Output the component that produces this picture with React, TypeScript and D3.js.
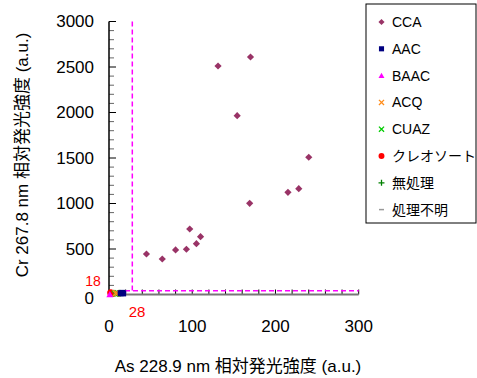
import { useEffect, useRef } from 'react';
import * as d3 from 'd3';

// 系列データ (As, Cr)
const cca: [number, number][] = [
    [45, 445], [64, 390], [80, 490], [93, 497], [97, 720], [105, 558], [110, 635],
    [169, 1002], [215, 1123], [228, 1163], [240, 1508], [131, 2511], [170, 2610], [154, 1965]
];
const aac: [number, number][] = [[14, 14], [16, 18], [17, 12]];
const baac: [number, number][] = [[1, 0]];
const acq: [number, number][] = [[8, 14], [10, 12]];
const cuaz: [number, number][] = [[7, 10], [9, 16], [11, 13]];
const creosote: [number, number][] = [[2, 18], [3, 10]];
const untreated: [number, number][] = [[6, 12], [12, 10]];
const unknown: [number, number][] = [[13, 8], [15, 6]];

const xTicks = [0, 100, 200, 300];
const yTicks = [0, 500, 1000, 1500, 2000, 2500, 3000];
const limitX = 28;
const limitY = 18;

const series = [
    { name: 'CCA', data: cca, shape: 'diamond', color: '#993366' },
    { name: 'AAC', data: aac, shape: 'square', color: '#000080' },
    { name: 'BAAC', data: baac, shape: 'triangle', color: '#ff00ff' },
    { name: 'ACQ', data: acq, shape: 'x', color: '#ff8c1a' },
    { name: 'CUAZ', data: cuaz, shape: 'x', color: '#00cc00' },
    { name: 'クレオソート', data: creosote, shape: 'circle', color: '#ff0000' },
    { name: '無処理', data: untreated, shape: 'plus', color: '#008000' },
    { name: '処理不明', data: unknown, shape: 'dash', color: '#999999' },
];

const FONT = '"Liberation Sans", Arial, "Noto Sans CJK JP", sans-serif';

function drawMarker(g: d3.Selection<SVGGElement, unknown, null, undefined>, shape: string, color: string, x: number, y: number, s = 1) {
    if (shape === 'diamond') {
        const r = 3.6 * s;
        g.append('path').attr('d', `M${x},${y - r}L${x + r},${y}L${x},${y + r}L${x - r},${y}Z`).attr('fill', color);
    } else if (shape === 'square') {
        g.append('rect').attr('x', x - 3 * s).attr('y', y - 3 * s).attr('width', 6 * s).attr('height', 6 * s).attr('fill', color);
    } else if (shape === 'triangle') {
        const r = 3.5 * s;
        g.append('path').attr('d', `M${x},${y - r}L${x + r},${y + r * 0.8}L${x - r},${y + r * 0.8}Z`).attr('fill', color);
    } else if (shape === 'circle') {
        g.append('circle').attr('cx', x).attr('cy', y).attr('r', 3.5 * s).attr('fill', color);
    } else if (shape === 'x') {
        const r = 3 * s;
        g.append('path').attr('d', `M${x - r},${y - r}L${x + r},${y + r}M${x - r},${y + r}L${x + r},${y - r}`)
            .attr('stroke', color).attr('stroke-width', 1.3);
    } else if (shape === 'plus') {
        const r = 3.5 * s;
        g.append('path').attr('d', `M${x - r},${y}L${x + r},${y}M${x},${y - r}L${x},${y + r}`)
            .attr('stroke', color).attr('stroke-width', 1.3);
    } else if (shape === 'dash') {
        g.append('path').attr('d', `M${x - 2.5},${y}L${x + 2.5},${y}`).attr('stroke', color).attr('stroke-width', 1.5);
    }
}

export default function App() {
    const svgRef = useRef<SVGSVGElement>(null);

    useEffect(() => {
        if (!svgRef.current) return;
        const svg = d3.select(svgRef.current);
        svg.selectAll('*').remove();

        const x = d3.scaleLinear().domain([0, 300]).range([109, 358.7]);
        const y = d3.scaleLinear().domain([0, 3000]).range([294.5, 21.5]);

        const g = svg.append('g');

        // 目盛り (Y)
        d3.range(0, 3001, 100).forEach(v => {
            const major = v % 500 === 0;
            g.append('line')
                .attr('x1', x(0)).attr('x2', x(0) + (major ? 7 : 5))
                .attr('y1', y(v)).attr('y2', y(v))
                .attr('stroke', major ? '#000' : '#666').attr('stroke-width', 1);
        });
        // 目盛り (X)
        d3.range(20, 301, 20).forEach(v => {
            g.append('line')
                .attr('x1', x(v)).attr('x2', x(v))
                .attr('y1', y(0)).attr('y2', y(0) - 5)
                .attr('stroke', '#000').attr('stroke-width', 1);
        });

        // 軸線
        g.append('line').attr('x1', x(0)).attr('x2', x(0)).attr('y1', y(3000)).attr('y2', y(0))
            .attr('stroke', '#000').attr('stroke-width', 1.5);
        g.append('line').attr('x1', x(0)).attr('x2', x(300)).attr('y1', y(0)).attr('y2', y(0))
            .attr('stroke', '#777').attr('stroke-width', 2);

        // 閾値の破線
        const yLim = y(limitY) - 2;
        g.append('line').attr('x1', x(limitX)).attr('x2', x(limitX)).attr('y1', y(3000)).attr('y2', yLim)
            .attr('stroke', '#ff00ff').attr('stroke-width', 1.5).attr('stroke-dasharray', '5,3');
        g.append('line').attr('x1', x(0)).attr('x2', x(300)).attr('y1', yLim).attr('y2', yLim)
            .attr('stroke', '#ff00ff').attr('stroke-width', 1.5).attr('stroke-dasharray', '5,3');

        // 目盛りラベル
        yTicks.forEach(v => {
            g.append('text').attr('x', 94).attr('y', y(v) + (v === 0 ? 3.5 : 0)).attr('dy', '0.35em')
                .attr('text-anchor', 'end').attr('font-size', 17).attr('font-family', FONT)
                .text(v);
        });
        xTicks.forEach(v => {
            g.append('text').attr('x', x(v)).attr('y', 332)
                .attr('text-anchor', 'middle').attr('font-size', 17).attr('font-family', FONT)
                .text(v);
        });

        // 赤いラベル
        g.append('text').attr('x', 93).attr('y', 286).attr('text-anchor', 'middle')
            .attr('font-size', 14).attr('fill', '#ff0000').attr('font-family', FONT).text(limitY);
        g.append('text').attr('x', 137).attr('y', 317).attr('text-anchor', 'middle')
            .attr('font-size', 15).attr('fill', '#ff0000').attr('font-family', FONT).text(limitX);

        // データ点
        series.slice().reverse().forEach(s => {
            s.data.forEach(([a, b]) => drawMarker(g, s.shape, s.color, x(a), y(b)));
        });

        // 軸タイトル
        g.append('text').attr('x', 238).attr('y', 372).attr('text-anchor', 'middle')
            .attr('font-size', 17).attr('font-family', FONT).text('As 228.9 nm 相対発光強度 (a.u.)');
        g.append('text').attr('transform', 'translate(28,155) rotate(-90)').attr('text-anchor', 'middle')
            .attr('font-size', 17).attr('font-family', FONT).text('Cr 267.8 nm 相対発光強度 (a.u.)');

        // 凡例
        const lg = svg.append('g');
        lg.append('rect').attr('x', 366).attr('y', 4).attr('width', 110).attr('height', 219)
            .attr('fill', '#fff').attr('stroke', '#000').attr('stroke-width', 1);
        series.forEach((s, i) => {
            const ly = 22 + i * 26.8;
            drawMarker(lg, s.shape, s.color, 381.5, ly, 0.85);
            lg.append('text').attr('x', 392).attr('y', ly).attr('dy', '0.35em')
                .attr('font-size', 14).attr('font-family', FONT).text(s.name);
        });
    }, []);

    return (
        <svg ref={svgRef} width={477} height={378}
            style={{ position: 'absolute', left: 0, top: 0, background: '#fff' }} />
    );
}
